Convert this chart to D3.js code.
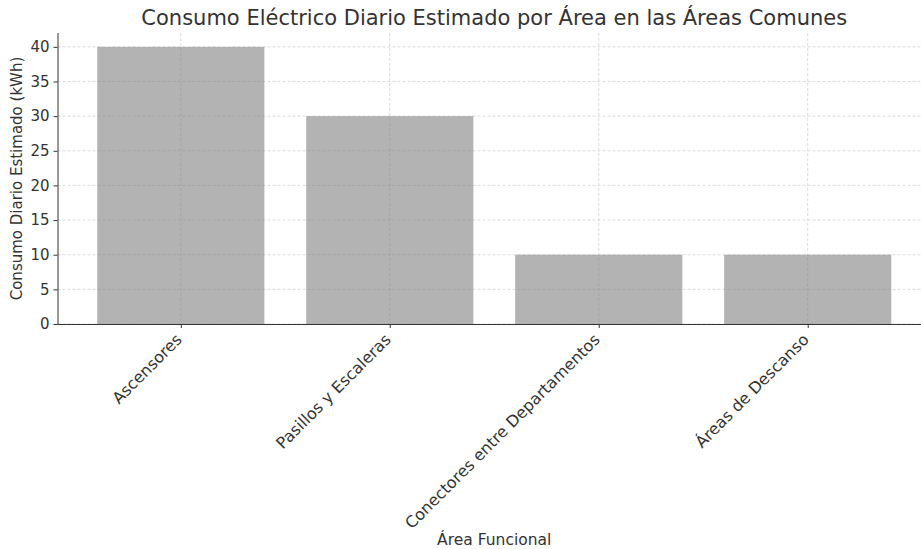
<!DOCTYPE html>
<html>
<head>
<meta charset="utf-8">
<style>
    body { margin: 0; background: #fff; }
    text { font-family: "DejaVu Sans", sans-serif; fill: #333; }
    .grid line { stroke: #d0d0d0; stroke-dasharray: 3,2; stroke-width: 0.8px; }
</style>
</head>
<body>
<svg id="chart" width="921" height="549"></svg>
<script src="https://d3js.org/d3.v7.min.js"></script>
<script>
    var areas = ["Ascensores", "Pasillos y Escaleras", "Conectores entre Departamentos", "Áreas de Descanso"];
    var consumo = [40, 30, 10, 10];
    var yTicks = [0, 5, 10, 15, 20, 25, 30, 35, 40];

    var svg = d3.select("#chart");
    var mLeft = 57.5, mRight = 931, mTop = 33, mBottom = 324;

    var x = d3.scaleLinear().domain([-0.59, areas.length - 1 + 0.59]).range([mLeft, mRight]);
    var y = d3.scaleLinear().domain([0, 42]).range([mBottom, mTop]);
    var barW = x(0.8) - x(0);

    // grid
    var grid = svg.append("g").attr("class", "grid");
    grid.selectAll(".gy").data(yTicks).enter().append("line")
        .attr("x1", mLeft).attr("x2", mRight)
        .attr("y1", function (d) { return y(d); }).attr("y2", function (d) { return y(d); });
    grid.selectAll(".gx").data(areas).enter().append("line")
        .attr("x1", function (d, i) { return x(i); }).attr("x2", function (d, i) { return x(i); })
        .attr("y1", mTop).attr("y2", mBottom);

    // bars
    svg.append("g").selectAll("rect").data(consumo).enter().append("rect")
        .attr("x", function (d, i) { return x(i) - barW / 2; })
        .attr("width", barW)
        .attr("y", function (d) { return y(d); })
        .attr("height", function (d) { return mBottom - y(d); })
        .attr("fill", "#808080")
        .attr("fill-opacity", 0.6);

    // y axis
    var yAxis = svg.append("g").attr("transform", "translate(" + mLeft + ",0)")
        .call(d3.axisLeft(y).tickValues(yTicks).tickSize(4).tickPadding(4));
    yAxis.selectAll("text").style("font-size", "15px");

    // x axis
    var xAxis = svg.append("g").attr("transform", "translate(0," + mBottom + ")")
        .call(d3.axisBottom(x).tickValues(d3.range(areas.length))
            .tickFormat(function (i) { return areas[i]; }).tickSize(4).tickPadding(4));
    xAxis.selectAll("text")
        .style("font-size", "16px")
        .attr("text-anchor", "end")
        .attr("dx", "0")
        .attr("dy", "0")
        .attr("transform", "translate(-4,11) rotate(-45)");

    svg.selectAll(".domain, .tick line").attr("stroke", "#333").attr("stroke-width", 1);
    yAxis.select(".domain").attr("d", "M0.5," + mTop + "V" + mBottom);
    xAxis.select(".domain").attr("d", "M" + mLeft + ",0.5H" + mRight);

    // labels
    svg.append("text").attr("x", (mLeft + mRight) / 2).attr("y", 25)
        .attr("text-anchor", "middle").style("font-size", "21px")
        .text("Consumo Eléctrico Diario Estimado por Área en las Áreas Comunes");
    svg.append("text").attr("x", (mLeft + mRight) / 2).attr("y", 545)
        .attr("text-anchor", "middle").style("font-size", "15.5px").text("Área Funcional");
    svg.append("text").attr("transform", "translate(22," + (mTop + mBottom) / 2 + ") rotate(-90)")
        .attr("text-anchor", "middle").style("font-size", "15px")
        .text("Consumo Diario Estimado (kWh)");
</script>
</body>
</html>
